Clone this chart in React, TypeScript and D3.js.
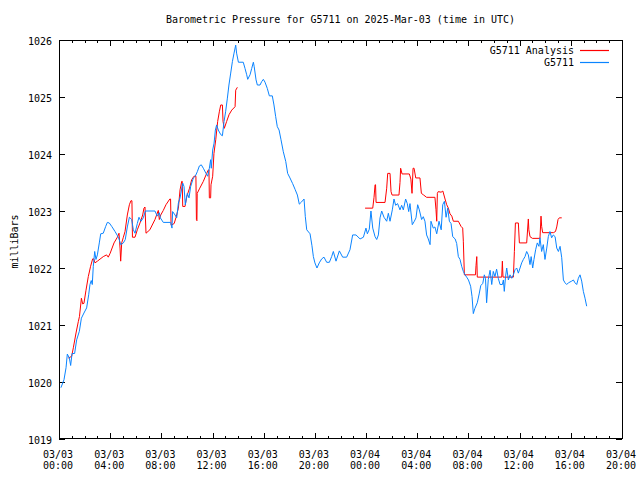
import React, { useRef, useEffect } from 'react';
import { select, scaleUtc, scaleLinear, line, utcHour, utcFormat } from 'd3';

// hours after 2025-03-03 00:00 UTC, pressure in millibars
const START = Date.UTC(2025, 2, 3, 0, 0);
const END = Date.UTC(2025, 2, 4, 20, 0);

const yTicks = [1019, 1020, 1021, 1022, 1023, 1024, 1025, 1026];

const stationSeries: [number, number][] = [
    [0.15, 1019.90], [0.39, 1020.04], [0.55, 1020.25], [0.65, 1020.49], [0.81, 1020.42], [0.91, 1020.29],
    [1.02, 1020.50], [1.22, 1020.50], [1.38, 1020.74], [1.59, 1020.89], [1.75, 1021.12], [1.95, 1021.21],
    [2.16, 1021.30], [2.32, 1021.53], [2.42, 1021.71], [2.52, 1021.78], [2.60, 1021.71], [2.68, 1022.03],
    [2.79, 1022.29], [2.89, 1022.15], [3.00, 1022.23], [3.15, 1022.44], [3.26, 1022.60], [3.46, 1022.61],
    [3.65, 1022.73], [3.78, 1022.80], [3.93, 1022.79], [4.12, 1022.73], [4.38, 1022.64], [4.56, 1022.57],
    [4.69, 1022.51], [4.82, 1022.41], [5.03, 1022.44], [5.18, 1022.50], [5.34, 1022.72], [5.50, 1022.89],
    [5.68, 1022.85], [5.81, 1022.67], [5.94, 1022.61], [6.12, 1022.78], [6.25, 1022.89], [6.41, 1022.82],
    [6.59, 1022.88], [6.75, 1023.00], [7.50, 1023.00], [7.68, 1022.91], [7.84, 1022.97], [7.92, 1022.88],
    [8.15, 1022.80], [8.73, 1022.80], [8.83, 1022.70], [8.88, 1022.99], [9.07, 1022.93], [9.20, 1022.88],
    [9.33, 1023.14], [9.46, 1023.23], [9.67, 1023.49], [9.77, 1023.43], [9.87, 1023.11], [10.03, 1023.31],
    [10.16, 1023.23], [10.29, 1023.43], [10.50, 1023.58], [10.65, 1023.61], [10.81, 1023.69], [10.97, 1023.79],
    [11.12, 1023.81], [11.28, 1023.75], [11.49, 1023.66], [11.62, 1023.61], [11.75, 1023.75], [11.85, 1023.90],
    [11.90, 1023.75], [12.01, 1024.07], [12.12, 1024.19], [12.22, 1024.42], [12.32, 1024.51], [12.45, 1024.42],
    [12.64, 1024.34], [12.77, 1024.32], [12.90, 1024.57], [13.02, 1024.74], [13.16, 1024.98], [13.28, 1025.21],
    [13.42, 1025.42], [13.55, 1025.62], [13.68, 1025.77], [13.81, 1025.91], [13.88, 1025.77], [14.02, 1025.61],
    [14.40, 1025.61], [14.54, 1025.50], [14.67, 1025.39], [14.75, 1025.31], [14.93, 1025.39], [15.06, 1025.50],
    [15.19, 1025.61], [15.25, 1025.54], [15.40, 1025.30], [15.50, 1025.21], [15.71, 1025.21], [15.84, 1025.27],
    [15.97, 1025.31], [16.10, 1025.26], [16.28, 1025.15], [16.44, 1025.02], [16.67, 1025.02], [16.80, 1024.86],
    [16.93, 1024.66], [17.06, 1024.48], [17.20, 1024.42], [17.35, 1024.25], [17.53, 1024.04], [17.72, 1023.87],
    [17.87, 1023.66], [18.05, 1023.58], [18.26, 1023.48], [18.45, 1023.38], [18.63, 1023.28], [18.78, 1023.12],
    [18.96, 1023.16], [19.15, 1023.21], [19.25, 1022.90], [19.36, 1022.67], [19.62, 1022.60], [19.77, 1022.39],
    [19.88, 1022.20], [20.00, 1022.09], [20.16, 1022.00], [20.34, 1022.09], [20.53, 1022.16], [20.71, 1022.19],
    [20.92, 1022.10], [21.13, 1022.10], [21.31, 1022.20], [21.44, 1022.29], [21.65, 1022.12], [21.91, 1022.30],
    [22.17, 1022.19], [22.48, 1022.19], [22.74, 1022.32], [22.95, 1022.58], [23.21, 1022.58], [23.53, 1022.51],
    [23.79, 1022.54], [23.99, 1022.70], [24.10, 1022.60], [24.25, 1022.68], [24.38, 1023.00], [24.52, 1022.70],
    [24.70, 1022.55], [24.83, 1022.50], [24.96, 1022.58], [25.09, 1022.88], [25.22, 1023.00], [25.40, 1022.89],
    [25.61, 1022.82], [25.74, 1022.96], [25.87, 1022.82], [26.05, 1023.02], [26.18, 1023.21], [26.31, 1023.10],
    [26.46, 1023.13], [26.65, 1023.02], [26.78, 1023.10], [26.91, 1023.02], [27.09, 1023.21], [27.22, 1023.13],
    [27.33, 1022.99], [27.43, 1023.13], [27.61, 1022.76], [27.77, 1022.82], [27.90, 1022.88], [28.03, 1023.11],
    [28.16, 1023.02], [28.34, 1022.85], [28.47, 1022.90], [28.60, 1022.82], [28.73, 1022.58], [28.86, 1022.51],
    [29.00, 1022.41], [29.07, 1022.82], [29.25, 1022.70], [29.38, 1022.72], [29.52, 1022.60], [29.70, 1022.82],
    [29.87, 1022.67], [29.99, 1023.11], [30.12, 1023.17], [30.25, 1022.89], [30.38, 1023.05], [30.51, 1022.82],
    [30.64, 1022.78], [30.77, 1022.55], [30.96, 1022.51], [31.08, 1022.43], [31.21, 1022.20], [31.34, 1022.15],
    [31.47, 1022.03], [31.60, 1021.94], [31.73, 1021.88], [31.86, 1021.84], [32.00, 1021.79], [32.17, 1021.68],
    [32.28, 1021.50], [32.38, 1021.20], [32.50, 1021.29], [32.69, 1021.39], [32.85, 1021.56], [32.96, 1021.69],
    [33.12, 1021.73], [33.24, 1021.88], [33.33, 1021.82], [33.42, 1021.39], [33.55, 1021.80], [33.69, 1021.96],
    [33.82, 1021.71], [33.94, 1021.94], [34.07, 1021.85], [34.20, 1021.98], [34.33, 1021.82], [34.47, 1021.71],
    [34.65, 1021.71], [34.73, 1021.79], [34.80, 1021.59], [34.90, 1021.85], [34.99, 1022.00], [35.12, 1021.79],
    [35.25, 1021.88], [35.38, 1021.82], [35.51, 1021.88], [35.64, 1021.97], [35.77, 1022.00], [35.90, 1021.91],
    [36.03, 1022.00], [36.16, 1022.09], [36.29, 1022.15], [36.42, 1022.20], [36.55, 1022.29], [36.68, 1022.23],
    [36.81, 1022.06], [36.90, 1022.20], [37.02, 1022.00], [37.12, 1022.15], [37.25, 1022.32], [37.38, 1022.44],
    [37.51, 1022.38], [37.59, 1022.53], [37.72, 1022.29], [37.85, 1022.41], [37.98, 1022.15], [38.12, 1022.35],
    [38.24, 1022.55], [38.37, 1022.64], [38.50, 1022.53], [38.63, 1022.58], [38.77, 1022.55], [38.90, 1022.35],
    [39.03, 1022.29], [39.16, 1022.38], [39.29, 1022.18], [39.42, 1021.79], [39.55, 1021.74], [39.68, 1021.71],
    [39.81, 1021.74], [40.07, 1021.77], [40.20, 1021.79], [40.33, 1021.74], [40.46, 1021.71], [40.59, 1021.82],
    [40.72, 1021.88], [40.85, 1021.77], [40.98, 1021.59], [41.11, 1021.47], [41.24, 1021.33],
];

// analysis comes in two stretches with a gap between them
const analysisDay1: [number, number][] = [
    [0.73, 1020.42], [0.99, 1020.45], [1.12, 1020.60], [1.33, 1020.86], [1.51, 1021.06], [1.60, 1021.15],
    [1.75, 1021.47], [1.85, 1021.37], [1.95, 1021.38], [2.11, 1021.61], [2.29, 1021.85], [2.47, 1022.03],
    [2.63, 1022.16], [2.72, 1022.16], [2.81, 1022.09], [3.00, 1022.12], [3.46, 1022.20], [3.72, 1022.23],
    [3.85, 1022.19], [4.00, 1022.26], [4.30, 1022.44], [4.56, 1022.54], [4.69, 1022.61], [4.77, 1022.35],
    [4.82, 1022.12], [4.90, 1022.44], [5.03, 1022.54], [5.16, 1022.64], [5.34, 1022.93], [5.50, 1023.11],
    [5.62, 1023.18], [5.70, 1023.18], [5.74, 1022.54], [5.94, 1022.54], [6.12, 1022.67], [6.33, 1022.79],
    [6.54, 1022.93], [6.64, 1023.05], [6.72, 1023.07], [6.80, 1022.61], [7.10, 1022.67], [7.50, 1022.85],
    [7.76, 1023.01], [7.84, 1022.85], [7.95, 1022.93], [8.15, 1023.01], [8.36, 1023.11], [8.66, 1023.21],
    [8.72, 1023.21], [8.76, 1022.75], [9.00, 1022.78], [9.15, 1022.89], [9.33, 1023.05], [9.46, 1023.37],
    [9.59, 1023.52], [9.63, 1023.52], [9.67, 1023.08], [9.85, 1023.08], [9.98, 1023.25], [10.20, 1023.40],
    [10.37, 1023.55], [10.55, 1023.61], [10.70, 1023.61], [10.74, 1022.85], [10.78, 1022.83], [10.80, 1023.31],
    [11.00, 1023.40], [11.28, 1023.52], [11.54, 1023.66], [11.67, 1023.72], [11.72, 1023.72], [11.75, 1023.23],
    [11.85, 1023.23], [11.88, 1023.46], [12.01, 1023.61], [12.11, 1024.01], [12.25, 1024.25], [12.40, 1024.57],
    [12.53, 1024.74], [12.64, 1024.86], [12.77, 1024.86], [12.82, 1024.57], [12.92, 1024.45], [13.10, 1024.57],
    [13.29, 1024.69], [13.50, 1024.77], [13.76, 1024.83], [13.81, 1025.12], [13.94, 1025.17],
];

const analysisDay2: [number, number][] = [
    [23.92, 1023.05], [24.52, 1023.05], [24.62, 1023.24], [24.70, 1023.46], [24.74, 1023.46], [24.78, 1023.15],
    [25.48, 1023.15], [25.61, 1023.40], [25.69, 1023.66], [25.87, 1023.66], [25.95, 1023.34], [26.03, 1023.28],
    [26.57, 1023.28], [26.65, 1023.50], [26.70, 1023.75], [26.81, 1023.65], [27.38, 1023.65], [27.50, 1023.56],
    [27.59, 1023.31], [27.67, 1023.75], [27.75, 1023.75], [27.88, 1023.58], [28.21, 1023.58], [28.32, 1023.31],
    [28.50, 1023.28], [28.73, 1023.24], [29.38, 1023.24], [29.46, 1023.03], [29.52, 1022.82], [29.57, 1023.31],
    [29.64, 1023.34], [29.86, 1023.33], [30.00, 1023.35], [30.17, 1023.21], [30.30, 1023.11], [30.43, 1023.05],
    [30.56, 1022.95], [30.70, 1022.91], [30.82, 1022.82], [31.21, 1022.82], [31.42, 1022.73], [31.55, 1022.70],
    [31.60, 1022.47], [31.68, 1021.88], [32.55, 1021.88], [32.59, 1022.04], [32.65, 1022.20], [32.69, 1021.84],
    [34.60, 1021.84], [34.65, 1022.12], [34.70, 1021.84], [35.51, 1021.84], [35.59, 1022.29], [35.67, 1022.79],
    [35.90, 1022.79], [35.98, 1022.44], [36.55, 1022.44], [36.68, 1022.86], [36.72, 1022.67], [36.81, 1022.55],
    [37.00, 1022.52], [37.59, 1022.52], [37.67, 1022.91], [37.72, 1022.73], [37.80, 1022.62], [38.64, 1022.62],
    [38.80, 1022.64], [38.90, 1022.72], [39.00, 1022.85], [39.10, 1022.88], [39.29, 1022.88],
];

const FONT = "'DejaVu Sans Mono', 'Liberation Mono', monospace";
const RED = "#ff0000";
const BLUE = "#0a84ff";

const PressureChart: React.FC = () => {
    const chartRef = useRef<SVGSVGElement | null>(null);

    useEffect(() => {
        if (!chartRef.current) return;
        const root = select(chartRef.current);
        root.selectAll("*").remove();

        const W = 640, H = 480;
        const margin = { top: 40, right: 18, bottom: 41, left: 59 };
        const width = W - margin.left - margin.right;
        const height = H - margin.top - margin.bottom;

        const svg = root.attr("width", W).attr("height", H)
            .append("g")
            .attr("transform", `translate(${margin.left},${margin.top})`);

        const xScale = scaleUtc().domain([new Date(START), new Date(END)]).range([0, width]);
        const yScale = scaleLinear().domain([1019, 1026]).range([height, 0]);

        const toDate = (h: number) => new Date(START + h * 3600e3);

        // ticks, mirrored on all four sides
        const minor = xScale.ticks(utcHour.every(1)!);
        const major = xScale.ticks(utcHour.every(4)!);
        const tickG = svg.append("g").attr("stroke", "#000").attr("shape-rendering", "crispEdges");
        minor.forEach(t => {
            const x = Math.round(xScale(t)) + 0.5;
            const len = major.some(m => +m === +t) ? 6 : 3;
            tickG.append("line").attr("x1", x).attr("x2", x).attr("y1", height).attr("y2", height - len);
            tickG.append("line").attr("x1", x).attr("x2", x).attr("y1", 0).attr("y2", len);
        });
        yTicks.forEach(v => {
            const y = Math.round(yScale(v)) + 0.5;
            tickG.append("line").attr("x1", 0).attr("x2", 6).attr("y1", y).attr("y2", y);
            tickG.append("line").attr("x1", width).attr("x2", width - 6).attr("y1", y).attr("y2", y);
        });

        // tick labels
        const fmtDay = utcFormat("%m/%d");
        const fmtTime = utcFormat("%H:%M");
        major.forEach(t => {
            const txt = svg.append("text")
                .attr("text-anchor", "middle")
                .style("font-family", FONT)
                .style("font-size", "10px")
                .attr("fill", "#000");
            txt.append("tspan").attr("x", xScale(t) - 1).attr("y", height + 19).text(fmtDay(t));
            txt.append("tspan").attr("x", xScale(t) - 1).attr("y", height + 30).text(fmtTime(t));
        });
        yTicks.forEach(v => {
            svg.append("text")
                .attr("x", -7)
                .attr("y", yScale(v) + 5)
                .attr("text-anchor", "end")
                .style("font-family", FONT)
                .style("font-size", "10px")
                .text(String(v));
        });

        // series
        const pathGen = line<[number, number]>()
            .x(d => xScale(toDate(d[0])))
            .y(d => yScale(d[1]));

        [analysisDay1, analysisDay2].forEach(seg => {
            svg.append("path")
                .datum(seg)
                .style("fill", "none")
                .style("stroke", RED)
                .style("stroke-width", 1)
                .attr("d", pathGen);
        });

        svg.append("path")
            .datum(stationSeries)
            .style("fill", "none")
            .style("stroke", BLUE)
            .style("stroke-width", 1)
            .attr("d", pathGen);

        // border
        svg.append("rect")
            .attr("x", 0.5).attr("y", 0.5)
            .attr("width", width).attr("height", height - 1)
            .attr("fill", "none")
            .attr("stroke", "#000")
            .attr("shape-rendering", "crispEdges");

        // legend
        const legend = [
            { label: "G5711 Analysis", color: RED },
            { label: "G5711", color: BLUE },
        ];
        legend.forEach((item, i) => {
            const y = 10 + i * 12;
            svg.append("text")
                .attr("x", width - 48)
                .attr("y", y + 4)
                .attr("text-anchor", "end")
                .style("font-family", FONT)
                .style("font-size", "10px")
                .text(item.label);
            svg.append("path")
                .attr("d", `M${width - 42},${y + 0.5}H${width - 13}`)
                .style("fill", "none")
                .style("stroke", item.color)
                .style("stroke-width", 1.2);
        });

        // title and axis label
        root.append("text")
            .attr("x", margin.left + width / 2)
            .attr("y", 23)
            .attr("text-anchor", "middle")
            .style("font-family", FONT)
            .style("font-size", "10px")
            .text("Barometric Pressure for G5711 on 2025-Mar-03 (time in UTC)");

        root.append("text")
            .attr("transform", `translate(18, ${margin.top + height / 2 + 2}) rotate(-90)`)
            .attr("text-anchor", "middle")
            .style("font-family", FONT)
            .style("font-size", "10px")
            .text("milliBars");
    }, []);

    return <svg ref={chartRef} style={{ position: 'absolute', left: 0, top: 0, background: '#fff' }}></svg>;
};

export default function App() {
    return <PressureChart />;
}
